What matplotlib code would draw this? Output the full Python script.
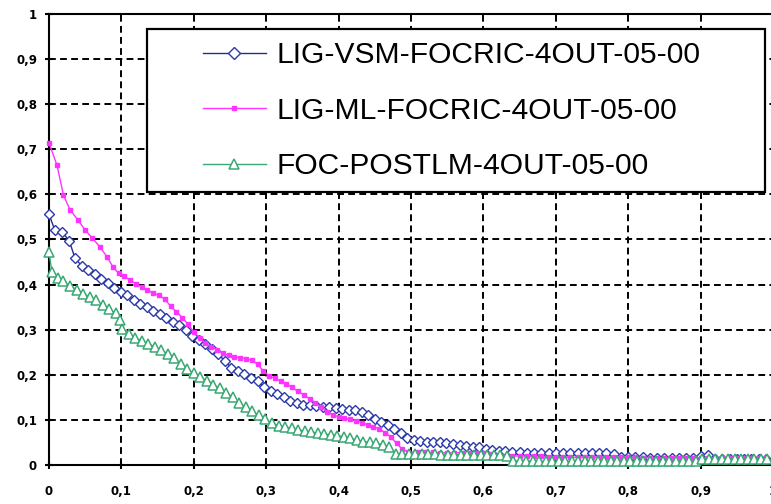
"""Recall/precision curves for three FOCRIC runs."""

import matplotlib

matplotlib.use("Agg")

import matplotlib.pyplot as plt
from matplotlib.patches import Rectangle
from matplotlib.ticker import FuncFormatter, MultipleLocator

labels = [
    "LIG-VSM-FOCRIC-4OUT-05-00",
    "LIG-ML-FOCRIC-4OUT-05-00",
    "FOC-POSTLM-4OUT-05-00",
]

vsm_recall = [
    0.000, 0.008, 0.018, 0.028, 0.036, 0.045, 0.054, 0.063, 0.072, 0.081,
    0.090, 0.099, 0.108, 0.117, 0.126, 0.135, 0.144, 0.153, 0.162, 0.171,
    0.180, 0.189, 0.198, 0.207, 0.216, 0.225, 0.234, 0.243, 0.252, 0.261,
    0.270, 0.279, 0.288, 0.297, 0.306, 0.315, 0.324, 0.333, 0.342, 0.351,
    0.360, 0.369, 0.378, 0.387, 0.396, 0.405, 0.414, 0.423, 0.432, 0.441,
    0.450, 0.459, 0.468, 0.477, 0.486, 0.495, 0.504, 0.513, 0.522, 0.531,
    0.540, 0.549, 0.558, 0.567, 0.576, 0.585, 0.594, 0.603, 0.612, 0.621,
    0.630, 0.640, 0.650, 0.660, 0.670, 0.680, 0.690, 0.700, 0.710, 0.720,
    0.730, 0.740, 0.750, 0.760, 0.770, 0.780, 0.790, 0.800, 0.810, 0.820,
    0.830, 0.840, 0.850, 0.860, 0.870, 0.880, 0.890, 0.900, 0.910, 0.920,
    0.930, 0.940, 0.950, 0.960, 0.970, 0.980, 0.990,
]
vsm_precision = [
    0.556, 0.521, 0.517, 0.497, 0.458, 0.442, 0.433, 0.423, 0.413, 0.403,
    0.393, 0.384, 0.376, 0.366, 0.357, 0.350, 0.342, 0.335, 0.327, 0.318,
    0.310, 0.300, 0.287, 0.278, 0.269, 0.257, 0.246, 0.230, 0.216, 0.208,
    0.202, 0.194, 0.186, 0.174, 0.164, 0.157, 0.150, 0.143, 0.138, 0.134,
    0.132, 0.130, 0.128, 0.128, 0.127, 0.125, 0.123, 0.121, 0.117, 0.110,
    0.102, 0.095, 0.088, 0.080, 0.070, 0.060, 0.055, 0.054, 0.052, 0.051,
    0.050, 0.049, 0.047, 0.045, 0.043, 0.041, 0.039, 0.036, 0.034, 0.032,
    0.030, 0.029, 0.028, 0.027, 0.027, 0.027, 0.027, 0.027, 0.027, 0.027,
    0.026, 0.026, 0.026, 0.026, 0.026, 0.025, 0.018, 0.017, 0.017, 0.017,
    0.016, 0.016, 0.016, 0.016, 0.016, 0.016, 0.016, 0.020, 0.022, 0.014,
    0.014, 0.013, 0.013, 0.013, 0.013, 0.013, 0.013,
]

ml_recall = [
    0.000, 0.011, 0.020, 0.029, 0.040, 0.050, 0.060, 0.070, 0.080, 0.088,
    0.096, 0.104, 0.112, 0.120, 0.128, 0.136, 0.144, 0.152, 0.160, 0.168,
    0.176, 0.184, 0.192, 0.200, 0.208, 0.216, 0.224, 0.232, 0.240, 0.248,
    0.256, 0.264, 0.272, 0.280, 0.288, 0.296, 0.304, 0.312, 0.320, 0.328,
    0.336, 0.344, 0.352, 0.360, 0.368, 0.376, 0.384, 0.392, 0.400, 0.408,
    0.416, 0.424, 0.432, 0.440, 0.448, 0.456, 0.464, 0.472, 0.480, 0.488,
    0.496, 0.510, 0.520, 0.530, 0.540, 0.550, 0.560, 0.570, 0.580, 0.590,
    0.600, 0.610, 0.620, 0.630, 0.640, 0.650, 0.660, 0.670, 0.680, 0.690,
    0.700, 0.710, 0.720, 0.730, 0.740, 0.750, 0.760, 0.770, 0.780, 0.790,
    0.800, 0.810, 0.820, 0.830, 0.840, 0.850, 0.860, 0.870, 0.880, 0.890,
    0.900, 0.910, 0.920, 0.930, 0.940, 0.950, 0.960, 0.970, 0.980, 0.990,
]
ml_precision = [
    0.714, 0.665, 0.598, 0.566, 0.543, 0.521, 0.503, 0.484, 0.462, 0.440,
    0.425, 0.418, 0.410, 0.402, 0.395, 0.388, 0.381, 0.376, 0.368, 0.352,
    0.340, 0.327, 0.312, 0.295, 0.282, 0.270, 0.262, 0.256, 0.248, 0.243,
    0.240, 0.238, 0.236, 0.232, 0.224, 0.208, 0.198, 0.192, 0.186, 0.180,
    0.172, 0.163, 0.155, 0.147, 0.138, 0.128, 0.118, 0.111, 0.107, 0.104,
    0.101, 0.098, 0.094, 0.089, 0.085, 0.080, 0.072, 0.062, 0.048, 0.035,
    0.029, 0.028, 0.028, 0.028, 0.027, 0.027, 0.027, 0.027, 0.027, 0.027,
    0.026, 0.024, 0.022, 0.020, 0.020, 0.020, 0.020, 0.020, 0.019, 0.018,
    0.017, 0.017, 0.017, 0.017, 0.017, 0.017, 0.017, 0.017, 0.017, 0.017,
    0.017, 0.017, 0.016, 0.016, 0.016, 0.016, 0.016, 0.016, 0.016, 0.016,
    0.016, 0.016, 0.016, 0.016, 0.015, 0.015, 0.015, 0.015, 0.015, 0.015,
]

postlm_recall = [
    0.000, 0.004, 0.012, 0.020, 0.029, 0.038, 0.047, 0.056, 0.065, 0.074,
    0.083, 0.092, 0.098, 0.101, 0.110, 0.119, 0.128, 0.137, 0.146, 0.155,
    0.164, 0.173, 0.182, 0.191, 0.200, 0.209, 0.218, 0.227, 0.236, 0.245,
    0.254, 0.263, 0.272, 0.281, 0.290, 0.299, 0.308, 0.317, 0.326, 0.335,
    0.344, 0.353, 0.362, 0.371, 0.380, 0.389, 0.398, 0.407, 0.416, 0.425,
    0.434, 0.443, 0.452, 0.461, 0.470, 0.479, 0.488, 0.497, 0.506, 0.515,
    0.524, 0.533, 0.542, 0.551, 0.560, 0.569, 0.578, 0.587, 0.596, 0.605,
    0.614, 0.623, 0.632, 0.641, 0.650, 0.659, 0.668, 0.677, 0.686, 0.695,
    0.704, 0.713, 0.722, 0.731, 0.740, 0.749, 0.758, 0.767, 0.776, 0.785,
    0.794, 0.803, 0.812, 0.821, 0.830, 0.839, 0.848, 0.857, 0.866, 0.875,
    0.884, 0.893, 0.902, 0.911, 0.920, 0.929, 0.938, 0.947, 0.956, 0.965,
    0.974, 0.983, 0.992,
]
postlm_precision = [
    0.472, 0.428, 0.415, 0.407, 0.397, 0.389, 0.380, 0.373, 0.365, 0.354,
    0.345, 0.337, 0.322, 0.302, 0.290, 0.282, 0.276, 0.269, 0.262, 0.254,
    0.247, 0.237, 0.224, 0.212, 0.203, 0.196, 0.186, 0.178, 0.170, 0.160,
    0.150, 0.137, 0.128, 0.119, 0.110, 0.101, 0.093, 0.087, 0.084, 0.082,
    0.078, 0.075, 0.073, 0.071, 0.069, 0.067, 0.065, 0.063, 0.060, 0.055,
    0.052, 0.050, 0.048, 0.045, 0.040, 0.025, 0.024, 0.024, 0.024, 0.024,
    0.024, 0.024, 0.023, 0.023, 0.023, 0.023, 0.023, 0.023, 0.022, 0.022,
    0.022, 0.022, 0.021, 0.009, 0.009, 0.009, 0.009, 0.008, 0.008, 0.008,
    0.008, 0.008, 0.008, 0.008, 0.008, 0.008, 0.008, 0.008, 0.008, 0.008,
    0.008, 0.008, 0.008, 0.008, 0.008, 0.008, 0.008, 0.008, 0.008, 0.008,
    0.008, 0.008, 0.013, 0.013, 0.013, 0.013, 0.013, 0.013, 0.013, 0.013,
    0.013, 0.013, 0.013,
]

plt.rcParams["font.weight"] = "bold"

fig = plt.figure(figsize=(7.71, 5.04), dpi=100)
ax = fig.add_axes([49 / 771, 39 / 504, 724 / 771, 451 / 504])

ax.plot(
    vsm_recall, vsm_precision, color="#1f2d96", lw=1.0,
    marker="D", markersize=5.2, markerfacecolor="white",
    markeredgecolor="#2a3aa8", markeredgewidth=1.0,
    label=labels[0], clip_on=False, zorder=3,
)
ax.plot(
    ml_recall, ml_precision, color="#ff33ff", lw=1.0,
    marker="s", markersize=2.5, markerfacecolor="#ff33ff",
    markeredgecolor="#ff33ff", label=labels[1], clip_on=False, zorder=3,
)
ax.plot(
    postlm_recall, postlm_precision, color="#3aa874", lw=1.0,
    marker="^", markersize=6.5, markerfacecolor="white",
    markeredgecolor="#3aa874", markeredgewidth=1.1,
    label=labels[2], clip_on=False, zorder=3,
)

ax.set_xlim(0, 1)
ax.set_ylim(0, 1)
ax.xaxis.set_major_locator(MultipleLocator(0.1))
ax.yaxis.set_major_locator(MultipleLocator(0.1))
comma = FuncFormatter(lambda v, _: f"{round(v, 1):g}".replace(".", ","))
ax.xaxis.set_major_formatter(comma)
ax.yaxis.set_major_formatter(comma)

ax.set_axisbelow(True)
ax.grid(True, color="black", linestyle=(0, (3.5, 2.2)), linewidth=1.4)
for side in ("left", "bottom", "top"):
    ax.spines[side].set_linewidth(1.5)
ax.spines["right"].set_visible(False)
ax.tick_params(direction="inout", length=6, width=1.5, labelsize=8.5)
ax.tick_params(axis="y", pad=5.6)
ax.tick_params(axis="x", pad=11.4)

frame = Rectangle(
    (0.1354, 0.605), 0.8536, 0.3614, transform=ax.transAxes,
    facecolor="white", edgecolor="black", linewidth=1.6,
    zorder=4, clip_on=False,
)
ax.add_patch(frame)
legend = ax.legend(
    loc="upper left", bbox_to_anchor=(0.2127, 0.940), frameon=False,
    prop={"family": "Liberation Sans", "size": 21.6, "weight": "normal"},
    handlelength=2.1, handletextpad=0.34, labelspacing=0.92,
    borderpad=0, borderaxespad=0, markerscale=1.2,
)
legend.set_zorder(5)

fig.savefig("out.png", dpi=100)
